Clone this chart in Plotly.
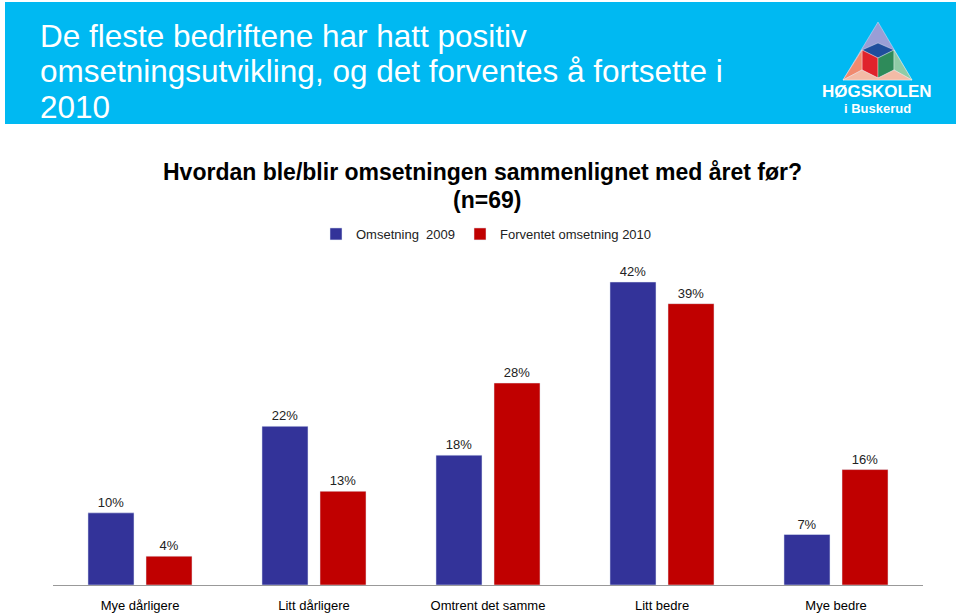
import plotly.graph_objects as go

categories = ["Mye dårligere", "Litt dårligere", "Omtrent det samme", "Litt bedre", "Mye bedre"]
oms_2009 = [10, 22, 18, 42, 7]
forv_2010 = [4, 13, 28, 39, 16]
series_names = ["Omsetning\u00a0 2009", "Forventet omsetning 2010"]

title_lines = ["De fleste bedriftene har hatt positiv",
               "omsetningsutvikling, og det forventes å fortsette i",
               "2010"]
subtitle_lines = ["Hvordan ble/blir omsetningen sammenlignet med året før?", "(n=69)"]

W, H = 960, 615
ML, MR, MT, MB = 53, 37, 260, 30
PW, PH = W - ML - MR, H - MT - MB


def px(x):
    return (x - ML) / PW


def py(y):
    return (H - MB - y) / PH


def path(points):
    return "M " + " L ".join(f"{px(x):.5f},{py(y):.5f}" for x, y in points) + " Z"


FONT = "Liberation Sans, Arial, sans-serif"
BLUE = "#333399"
RED = "#C00000"

fig = go.Figure()
fig.add_trace(go.Bar(x=categories, y=oms_2009, name=series_names[0], marker_color=BLUE,
                     texttemplate="%{y}%", textposition="outside", cliponaxis=False,
                     textfont=dict(size=13, color="#222222", family=FONT)))
fig.add_trace(go.Bar(x=categories, y=forv_2010, name=series_names[1], marker_color=RED,
                     texttemplate="%{y}%", textposition="outside", cliponaxis=False,
                     textfont=dict(size=13, color="#222222", family=FONT)))

shapes = []
# header band
shapes.append(dict(type="rect", xref="paper", yref="paper", x0=px(5), x1=px(956), y0=py(124), y1=py(2),
                   fillcolor="#00B9F2", line=dict(width=0), layer="below"))
# logo (triangle mark)
A, BL, BR = (878, 22), (843, 80), (912, 80)
logo_parts = [
    ([A, BL, BR], "#9A9ED6"),
    ([(862, 50), (878, 43), (894, 50), (878, 58)], "#1F4E9C"),
    ([(862, 50), (878, 58), (878, 78), (862, 70)], "#E0232B"),
    ([(894, 50), (878, 58), (878, 78), (894, 70)], "#2E8B5A"),
    ([BL, (862, 50), (862, 70)], "#F08A6E"),
    ([BR, (894, 50), (894, 70)], "#8FCBA6"),
    ([BL, (862, 70), (878, 78), (894, 70), BR], "#F3BBA6"),
]
for pts, col in logo_parts:
    shapes.append(dict(type="path", xref="paper", yref="paper", path=path(pts),
                       fillcolor=col, line=dict(color="rgba(255,255,255,0.6)", width=0.6)))

annotations = []
for i, line in enumerate(title_lines):
    annotations.append(dict(text=line, xref="paper", yref="paper", x=px(38), y=py(36 + i * 35.5),
                            xanchor="left", yanchor="middle", showarrow=False,
                            font=dict(size=31.5, color="white", family=FONT)))
annotations.append(dict(text=subtitle_lines[0], xref="paper", yref="paper", x=px(482), y=py(172),
                        xanchor="center", yanchor="middle", showarrow=False,
                        font=dict(size=23, color="black", family=FONT, weight="bold")))
annotations.append(dict(text=subtitle_lines[1], xref="paper", yref="paper", x=px(487), y=py(200),
                        xanchor="center", yanchor="middle", showarrow=False,
                        font=dict(size=23, color="black", family=FONT, weight="bold")))
annotations.append(dict(text="HØGSKOLEN", xref="paper", yref="paper", x=px(877), y=py(91),
                        xanchor="center", yanchor="middle", showarrow=False,
                        font=dict(size=17, color="white", family=FONT, weight="bold")))
annotations.append(dict(text="i Buskerud", xref="paper", yref="paper", x=px(877), y=py(108),
                        xanchor="center", yanchor="middle", showarrow=False,
                        font=dict(size=13, color="white", family=FONT, weight="bold")))

fig.update_layout(
    width=W, height=H,
    margin=dict(l=ML, r=MR, t=MT, b=MB, autoexpand=False),
    paper_bgcolor="white", plot_bgcolor="white",
    barmode="group", bargap=0.333, bargroupgap=0.207,
    font=dict(family=FONT, size=13, color="black"),
    showlegend=True,
    legend=dict(orientation="h", x=px(316), y=py(234), xanchor="left", yanchor="middle",
                font=dict(size=13, color="#222222", family=FONT), bgcolor="rgba(0,0,0,0)",
                itemwidth=30, traceorder="normal"),
    shapes=shapes,
    annotations=annotations,
    xaxis=dict(showline=True, linecolor="#999999", linewidth=1, showgrid=False, zeroline=False,
               ticks="outside", ticklen=8, tickcolor="rgba(0,0,0,0)", automargin=False,
               tickfont=dict(size=13, color="black", family=FONT)),
    yaxis=dict(visible=False, range=[0, 45.05], showgrid=False, zeroline=False, automargin=False),
)

fig.write_html("out.html", config={"displayModeBar": False},
               post_script="document.body.style.margin='0';document.body.style.overflow='hidden';")
